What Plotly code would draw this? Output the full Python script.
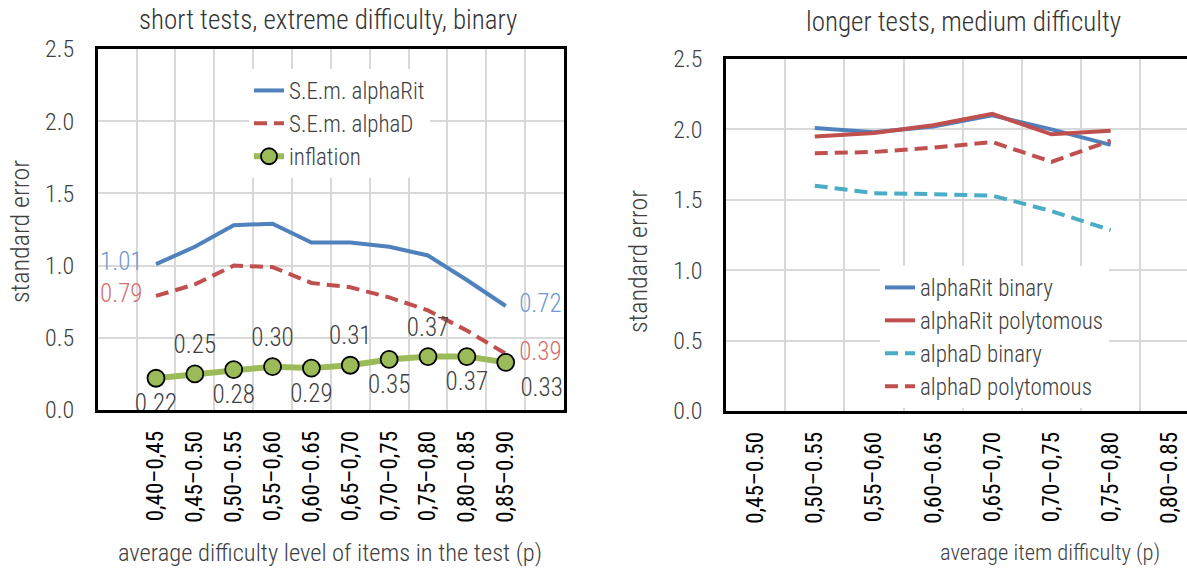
import plotly.graph_objects as go

# ---------------- data ----------------
cats_left = ["0,40–0,45", "0,45–0.50", "0,50–0.55", "0,55–0,60", "0,60–0.65",
             "0,65–0,70", "0,70–0,75", "0,75–0,80", "0,80–0.85", "0,85–0.90"]
sem_alpharit = [1.01, 1.13, 1.28, 1.29, 1.16, 1.16, 1.13, 1.07, 0.90, 0.72]
sem_alphad = [0.79, 0.87, 1.00, 0.99, 0.88, 0.85, 0.78, 0.69, 0.55, 0.39]
inflation = [0.22, 0.25, 0.28, 0.30, 0.29, 0.31, 0.35, 0.37, 0.37, 0.33]

cats_right = ["0,45–0.50", "0,50–0.55", "0,55–0,60", "0,60–0.65",
              "0,65–0,70", "0,70–0,75", "0,75–0,80", "0,80–0.85"]
cats_right_data = ["0,50–0.55", "0,55–0,60", "0,60–0.65", "0,65–0,70", "0,70–0,75", "0,75–0,80"]
alpharit_binary = [2.01, 1.98, 2.02, 2.10, 2.00, 1.89]
alpharit_poly = [1.95, 1.975, 2.03, 2.11, 1.965, 1.99]
alphad_binary = [1.60, 1.547, 1.54, 1.53, 1.42, 1.285]
alphad_poly = [1.83, 1.84, 1.87, 1.91, 1.77, 1.92]

# ---------------- style ----------------
W, H = 1187, 569
FONT = "Roboto Condensed, Liberation Sans Narrow, sans-serif"
TXT = "#404040"
BLUE, RED, GREEN, CYAN = "#4F81BD", "#C0504D", "#9BBB59", "#4BACC6"
GRID = "#D9D9D9"
CLEAR = "rgba(0,0,0,0)"


def px(x):
    return x / W


def py(y):
    return 1 - y / H


def end_labels(cats, vals, color, pos_first, pos_last):
    """Value labels on the first and last point of a series."""
    idx = [0, len(vals) - 1]
    return go.Scatter(
        x=[cats[i] for i in idx], y=[vals[i] for i in idx], mode="markers+text", showlegend=False,
        marker=dict(size=20, color=CLEAR), text=[f"{vals[i]:.2f}" for i in idx],
        textposition=[pos_first, pos_last],
        textfont=dict(family=FONT, size=25, color=color, weight=300),
        cliponaxis=False, xaxis="x", yaxis="y", hoverinfo="skip")


fig = go.Figure()

# left chart
fig.add_trace(go.Scatter(
    x=cats_left, y=sem_alpharit, name="S.E.m. alphaRit", mode="lines",
    line=dict(color=BLUE, width=4), xaxis="x", yaxis="y", legend="legend"))
fig.add_trace(go.Scatter(
    x=cats_left, y=sem_alphad, name="S.E.m. alphaD", mode="lines",
    line=dict(color=RED, width=4, dash="13px,7px"), xaxis="x", yaxis="y", legend="legend"))
fig.add_trace(go.Scatter(
    x=cats_left, y=inflation, name="inflation", mode="lines+markers",
    line=dict(color=GREEN, width=6),
    marker=dict(size=17, color=GREEN, line=dict(color="black", width=1.8)),
    xaxis="x", yaxis="y", legend="legend"))
fig.add_trace(end_labels(cats_left, sem_alpharit, "#6F97D0", "middle left", "middle right"))
fig.add_trace(end_labels(cats_left, sem_alphad, "#D46E6C", "middle left", "middle right"))
infl_pos = ["bottom center", "top center"] * 5
infl_pos[-1] = "bottom right"
fig.add_trace(go.Scatter(
    x=cats_left, y=inflation, mode="markers+text", showlegend=False,
    marker=dict(size=22, color=CLEAR),
    text=[f"{v:.2f}" for v in inflation], textposition=infl_pos,
    textfont=dict(family=FONT, size=25, color=TXT, weight=300),
    cliponaxis=False, xaxis="x", yaxis="y", hoverinfo="skip"))

# right chart
fig.add_trace(go.Scatter(x=cats_right_data, y=alpharit_binary, name="alphaRit binary", mode="lines",
                         line=dict(color=BLUE, width=4), xaxis="x2", yaxis="y2", legend="legend2"))
fig.add_trace(go.Scatter(x=cats_right_data, y=alpharit_poly, name="alphaRit polytomous", mode="lines",
                         line=dict(color=RED, width=4), xaxis="x2", yaxis="y2", legend="legend2"))
fig.add_trace(go.Scatter(x=cats_right_data, y=alphad_binary, name="alphaD binary", mode="lines",
                         line=dict(color=CYAN, width=4, dash="13px,7px"), xaxis="x2", yaxis="y2",
                         legend="legend2"))
fig.add_trace(go.Scatter(x=cats_right_data, y=alphad_poly, name="alphaD polytomous", mode="lines",
                         line=dict(color=RED, width=4, dash="13px,7px"), xaxis="x2", yaxis="y2",
                         legend="legend2"))

yax_common = dict(range=[0, 2.5], dtick=0.5, tickformat=".1f", showgrid=True, gridcolor=GRID, gridwidth=1.5,
                  showline=True, linecolor="black", linewidth=2.5, ticks="", zeroline=False,
                  tickfont=dict(family=FONT, size=24, color=TXT, weight=300), ticklabelstandoff=16)
xax_common = dict(type="category", tickson="boundaries", showgrid=True, gridcolor=GRID, gridwidth=1.5,
                  showline=True, linecolor="black", linewidth=2.5, ticks="", tickangle=-90,
                  tickfont=dict(family=FONT, size=23, color="black", weight=400), ticklabelstandoff=9,
                  categoryorder="array")

title_font = dict(family=FONT, size=27, color="#333333", weight=300)

fig.update_layout(
    width=W, height=H, margin=dict(l=0, r=0, t=0, b=0, autoexpand=False),
    paper_bgcolor="white", plot_bgcolor="white",
    showlegend=True,
    xaxis=dict(domain=[px(97.7), px(564)], anchor="y", range=[-1.5, 10.5], categoryarray=cats_left,
               mirror=True, **xax_common),
    yaxis=dict(domain=[py(410), py(49)], anchor="x", mirror=True, **yax_common),
    xaxis2=dict(domain=[px(726), 1.0], anchor="y2", range=[-0.5, 7.29], categoryarray=cats_right,
                mirror=True, **xax_common),
    yaxis2=dict(domain=[py(411), py(59)], anchor="x2", mirror=False, **yax_common),
    legend=dict(x=px(249), y=py(69), xanchor="left", yanchor="top", bgcolor="white",
                font=dict(family=FONT, size=23, color=TXT, weight=300), tracegroupgap=0),
    legend2=dict(x=px(880), y=py(266), xanchor="left", yanchor="top", bgcolor="white",
                 font=dict(family=FONT, size=23, color=TXT, weight=300), tracegroupgap=0),
    annotations=[
        dict(text="short tests, extreme difficulty, binary", x=px(328), y=py(20), xref="paper", yref="paper",
             showarrow=False, xanchor="center", yanchor="middle", font=title_font),
        dict(text="longer tests, medium difficulty", x=px(963), y=py(22), xref="paper", yref="paper",
             showarrow=False, xanchor="center", yanchor="middle", font=title_font),
        dict(text="average difficulty level of items in the test (p)", x=px(330), y=py(552), xref="paper",
             yref="paper", showarrow=False, xanchor="center", yanchor="middle",
             font=dict(family=FONT, size=24.5, color=TXT, weight=300)),
        dict(text="average item difficulty (p)", x=px(1050), y=py(552), xref="paper",
             yref="paper", showarrow=False, xanchor="center", yanchor="middle",
             font=dict(family=FONT, size=22.5, color=TXT, weight=300)),
        dict(text="standard error", x=px(20), y=py(232), xref="paper", yref="paper", textangle=-90,
             showarrow=False, xanchor="center", yanchor="middle",
             font=dict(family=FONT, size=26, color=TXT, weight=300)),
        dict(text="standard error", x=px(638), y=py(262), xref="paper", yref="paper", textangle=-90,
             showarrow=False, xanchor="center", yanchor="middle",
             font=dict(family=FONT, size=26, color=TXT, weight=300)),
    ],
)

fig.write_html("out.html", config={"displayModeBar": False},
               post_script="document.body.style.margin='0px';document.body.style.overflow='hidden';")
